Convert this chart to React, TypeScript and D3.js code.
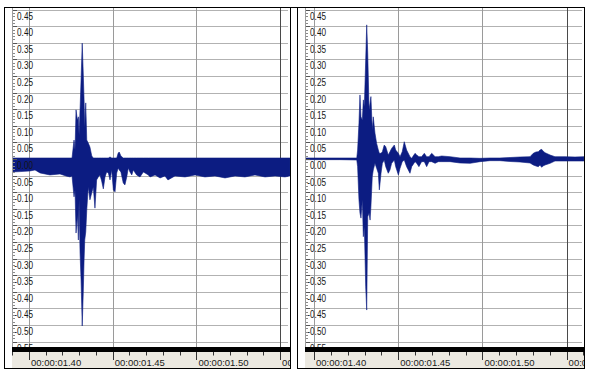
import React from 'react';
import * as d3 from 'd3';

// ---------- data ----------
const Y_TICKS = [0.45, 0.4, 0.35, 0.3, 0.25, 0.2, 0.15, 0.1, 0.05, 0, -0.05, -0.1, -0.15, -0.2, -0.25, -0.3, -0.35, -0.4, -0.45, -0.5, -0.55];
const Y_TICK_LABELS = ["0.45", "0.40", "0.35", "0.30", "0.25", "0.20", "0.15", "0.10", "0.05", "0.00", "-0.05", "-0.10", "-0.15", "-0.20", "-0.25", "-0.30", "-0.35", "-0.40", "-0.45", "-0.50", "-0.55"];
const TIME_TICKS = [1400, 1450, 1500, 1550]; // ms
const TIME_LABELS = ["00:00:01.40", "00:00:01.45", "00:00:01.50", "00:00:01.55"];

// left recording: time (ms), upper envelope, lower envelope
const LEFT_TIME = [
  1389.8, 1394.6, 1400.6, 1403.6, 1406.6, 1412.5, 1418.5, 1422.1, 1424.5, 1425.7,
  1426.9, 1427.5, 1428.1, 1428.9, 1429.5, 1429.9, 1430.5, 1431.1, 1431.8, 1432.4,
  1432.9, 1433.3, 1433.9, 1434.5, 1435.4, 1436.4, 1437.5, 1438.4, 1439.4, 1440.4,
  1441.4, 1442.4, 1443.4, 1444.4, 1445.4, 1446.4, 1447.4, 1448.4, 1449.4, 1450.4,
  1451.4, 1452.4, 1453.3, 1453.9, 1454.9, 1456.3, 1457.3, 1458.4, 1459.3, 1460.3,
  1461.4, 1462.3, 1464.3, 1466.3, 1468.3, 1471.3, 1472.3, 1475.3, 1478.3, 1481.2,
  1483.0, 1487.2, 1493.2, 1499.2, 1505.1, 1511.1, 1517.1, 1523.1, 1529.0, 1535.0,
  1541.0, 1547.0, 1552.9, 1555.9,
];
const LEFT_MAX = [
  0.003, 0.003, 0.003, 0.003, 0.003, 0.003, 0.003, 0.003, 0.003, 0.003,
  0.057, 0.027, 0.148, 0.117, 0.127, 0.072, 0.148, 0.238, 0.349, 0.259,
  0.178, 0.096, 0.169, 0.057, 0.048, 0.036, 0.009, 0.003, 0.003, 0.003,
  0.003, 0.003, 0.003, 0.003, 0.003, 0.003, 0.003, 0.006, 0.003, 0.003,
  0.003, 0.003, 0.018, 0.021, 0.009, 0.003, 0.003, 0.003, 0.003, 0.003,
  0.003, 0.003, 0.003, 0.003, 0.003, 0.003, 0.003, 0.003, 0.003, 0.003,
  0.003, 0.003, 0.003, 0.003, 0.003, 0.003, 0.003, 0.003, 0.003, 0.003,
  0.003, 0.003, 0.003, 0.003,
];
const LEFT_MIN = [
  -0.039, -0.038, -0.036, -0.033, -0.042, -0.048, -0.045, -0.051, -0.054, -0.051,
  -0.114, -0.093, -0.223, -0.169, -0.244, -0.123, -0.283, -0.364, -0.503, -0.404,
  -0.304, -0.244, -0.22, -0.154, -0.084, -0.123, -0.102, -0.084, -0.148, -0.063,
  -0.054, -0.048, -0.066, -0.09, -0.054, -0.039, -0.042, -0.063, -0.033, -0.093,
  -0.099, -0.042, -0.027, -0.033, -0.039, -0.072, -0.078, -0.054, -0.027, -0.039,
  -0.048, -0.033, -0.048, -0.054, -0.039, -0.048, -0.054, -0.048, -0.057, -0.051,
  -0.063, -0.051, -0.054, -0.048, -0.054, -0.051, -0.057, -0.051, -0.054, -0.048,
  -0.054, -0.051, -0.054, -0.051,
];

// right recording
const RIGHT_TIME = [
  1394.7, 1415.4, 1425.4, 1425.9, 1426.7, 1427.3, 1427.9, 1428.7, 1429.3, 1429.9,
  1430.7, 1431.3, 1431.9, 1432.7, 1433.3, 1433.8, 1434.6, 1435.2, 1436.2, 1437.2,
  1438.2, 1438.8, 1439.8, 1440.6, 1441.7, 1442.6, 1444.1, 1445.1, 1446.1, 1447.7,
  1448.5, 1450.1, 1451.1, 1452.4, 1453.6, 1455.0, 1457.0, 1458.0, 1460.0, 1461.0,
  1462.3, 1463.9, 1465.5, 1466.9, 1468.3, 1469.9, 1471.9, 1473.8, 1475.8, 1480.8,
  1486.7, 1492.7, 1498.6, 1504.5, 1510.4, 1516.4, 1522.3, 1528.3, 1530.2, 1531.8,
  1533.2, 1534.2, 1535.2, 1536.0, 1537.2, 1540.2, 1543.1, 1549.1, 1555.0, 1560.3,
];
const RIGHT_MAX = [
  0.003, 0.003, 0.003, 0.027, 0.108, 0.193, 0.127, 0.117, 0.178, 0.158,
  0.298, 0.404, 0.319, 0.148, 0.169, 0.188, 0.087, 0.127, 0.078, 0.047,
  0.027, 0.017, 0.017, 0.022, 0.042, 0.037, 0.012, 0.022, 0.032, 0.042,
  0.027, 0.017, 0.007, 0.022, 0.052, 0.027, 0.007, 0.002, 0.017, 0.012,
  0.007, 0.007, 0.017, 0.007, 0.007, 0.017, 0.007, 0.007, 0.009, 0.007,
  0.003, 0.003, 0.002, 0.003, 0.003, 0.0045, 0.006, 0.007, 0.017, 0.021,
  0.022, 0.027, 0.029, 0.024, 0.019, 0.012, 0.007, 0.007, 0.006, 0.007,
];
const RIGHT_MIN = [
  -0.002, -0.002, -0.003, -0.023, -0.123, -0.163, -0.178, -0.123, -0.234, -0.204,
  -0.385, -0.455, -0.174, -0.163, -0.184, -0.144, -0.053, -0.033, -0.013, -0.028,
  -0.043, -0.093, -0.043, -0.013, -0.003, -0.023, -0.043, -0.033, -0.013, -0.003,
  -0.023, -0.048, -0.028, -0.008, -0.003, -0.023, -0.043, -0.023, -0.008, -0.013,
  -0.023, -0.008, -0.008, -0.023, -0.008, -0.008, -0.013, -0.008, -0.008, -0.008,
  -0.012, -0.013, -0.008, -0.005, -0.005, -0.0075, -0.009, -0.012, -0.018, -0.021,
  -0.023, -0.018, -0.025, -0.021, -0.018, -0.013, -0.006, -0.006, -0.006, -0.006,
];

const WAVE_COLOR = '#0c1c82';
const FONT = "'Liberation Sans', Arial, sans-serif";
const TIME_FONT_SIZE = 9.5;

// approximate Arial advance widths (em) for the characters used by the time labels
const charWidth = (c: string) => (c === ':' || c === '.' ? 0.278 : 0.556) * TIME_FONT_SIZE;

// keep the characters of a label that are visible before the panel edge (the rest is cut off, as in the reference)
function fitLabel(label: string, room: number) {
  let w = 0;
  let out = '';
  for (const c of label) {
    w += charWidth(c);
    if (w > room + charWidth(c) * 0.9) break;
    out += c;
  }
  return out;
}

type PanelProps = {
  id: string;
  frameX0: number;
  frameX1: number;
  rulerX: number;
  x1400: number;
  x1550: number;
  labelRight: number;
  times: number[];
  maxs: number[];
  mins: number[];
};

const TOP = 7;
const PLOT_BOTTOM = 347;
const BAR_BOTTOM = 352;
const FRAME_BOTTOM = 368;

function Panel(p: PanelProps) {
  const x = d3.scaleLinear().domain([TIME_TICKS[0], TIME_TICKS[TIME_TICKS.length - 1]]).range([p.x1400, p.x1550]);
  const y = d3.scaleLinear().domain([-0.55, 0.45]).range([341.6, 9.6]);
  const idx = d3.range(p.times.length);
  const area = d3
    .area<number>()
    .x((i) => x(p.times[i]))
    .y0((i) => y(p.mins[i]))
    .y1((i) => y(p.maxs[i]));
  const tStart = x.invert(p.rulerX);
  const tEnd = x.invert(p.frameX1);
  const minorT = d3.range(Math.ceil(tStart / 10) * 10, tEnd, 10);
  const yMinor = d3.range(-55, 48).map((k) => k / 100).filter((v) => y(v) > TOP + 1 && y(v) < PLOT_BOTTOM);
  const crisp = (v: number) => Math.round(v) + 0.5;
  const clipPlot = `${p.id}-plot`;
  const clipPanel = `${p.id}-panel`;

  return (
    <g>
      <defs>
        <clipPath id={clipPlot}>
          <rect x={p.rulerX} y={TOP} width={p.frameX1 - p.rulerX} height={PLOT_BOTTOM - TOP} />
        </clipPath>
        <clipPath id={clipPanel}>
          <rect x={p.frameX0} y={TOP} width={p.frameX1 - p.frameX0} height={FRAME_BOTTOM - TOP} />
        </clipPath>
      </defs>
      <rect x={p.frameX0} y={TOP} width={p.frameX1 - p.frameX0} height={FRAME_BOTTOM - TOP} fill="#fff" />
      <g clipPath={`url(#${clipPlot})`}>
        {/* horizontal grid */}
        {Y_TICKS.map((v, i) => (
          <line key={'h' + i} x1={p.rulerX} x2={p.frameX1 - 2} y1={crisp(y(v))} y2={crisp(y(v))} stroke="#b2b2b2" strokeWidth={1} />
        ))}
        {/* vertical grid */}
        {TIME_TICKS.map((t, i) => (
          <line
            key={'v' + i}
            x1={crisp(x(t))}
            x2={crisp(x(t))}
            y1={TOP}
            y2={PLOT_BOTTOM}
            stroke={i === TIME_TICKS.length - 1 ? '#4a4a4a' : '#9a9a9a'}
            strokeWidth={1}
          />
        ))}
        <path d={area(idx) || ''} fill={WAVE_COLOR} stroke={WAVE_COLOR} strokeWidth={0.6} />
        {/* y labels */}
        {Y_TICKS.map((v, i) => (
          <text
            key={'yl' + i}
            transform={`translate(${p.labelRight},${y(v) + 10}) scale(0.82,1)`}
            textAnchor="end"
            fontFamily={FONT}
            fontSize={10}
            fill="#151515"
          >
            {Y_TICK_LABELS[i]}
          </text>
        ))}
        {/* y ruler */}
        <line x1={p.rulerX + 0.5} x2={p.rulerX + 0.5} y1={TOP} y2={PLOT_BOTTOM} stroke="#9c9c9c" strokeWidth={1} />
        {yMinor.map((v, i) => {
          const major = Math.abs(Math.round(v * 100) % 5) === 0;
          return (
            <line
              key={'ym' + i}
              x1={p.rulerX + 1}
              x2={p.rulerX + (major ? 5 : 3)}
              y1={crisp(y(v))}
              y2={crisp(y(v))}
              stroke={major ? '#555' : '#8a8a8a'}
              strokeWidth={1}
            />
          );
        })}
      </g>
      {/* time ruler */}
      <g clipPath={`url(#${clipPanel})`}>
        <rect x={p.rulerX} y={PLOT_BOTTOM} width={p.frameX1 - p.rulerX} height={BAR_BOTTOM - PLOT_BOTTOM} fill="#000" />
        <rect x={p.rulerX} y={BAR_BOTTOM} width={p.frameX1 - p.rulerX} height={FRAME_BOTTOM - BAR_BOTTOM} fill="#ece9e1" />
        {minorT.map((t, i) => {
          const major = Math.round(t) % 50 === 0;
          return (
            <line
              key={'tm' + i}
              x1={crisp(x(t))}
              x2={crisp(x(t))}
              y1={BAR_BOTTOM}
              y2={BAR_BOTTOM + (major ? 8 : 3.5)}
              stroke="#333"
              strokeWidth={1}
            />
          );
        })}
        {TIME_TICKS.map((t, i) => (
          <text key={'tl' + i} x={x(t) + 2} y={365.5} fontFamily={FONT} fontSize={TIME_FONT_SIZE} fill="#1a1a1a">
            {fitLabel(TIME_LABELS[i], p.frameX1 - (x(t) + 2))}
          </text>
        ))}
      </g>
      {/* frame */}
      <rect
        x={p.frameX0 + 0.5}
        y={TOP + 0.5}
        width={p.frameX1 - p.frameX0}
        height={FRAME_BOTTOM - TOP}
        fill="none"
        stroke="#000"
        strokeWidth={1}
      />
    </g>
  );
}

export default function App() {
  return (
    <svg
      width={596}
      height={375}
      viewBox="0 0 596 375"
      style={{ position: 'absolute', left: 0, top: 0, background: '#fff' }}
    >
      <rect x={0} y={0} width={596} height={375} fill="#fff" />
      <Panel
        id="left"
        frameX0={4}
        frameX1={290}
        rulerX={12}
        x1400={29}
        x1550={280.1}
        labelRight={33}
        times={LEFT_TIME}
        maxs={LEFT_MAX}
        mins={LEFT_MIN}
      />
      <Panel
        id="right"
        frameX0={297}
        frameX1={584}
        rulerX={305}
        x1400={314}
        x1550={566.6}
        labelRight={326}
        times={RIGHT_TIME}
        maxs={RIGHT_MAX}
        mins={RIGHT_MIN}
      />
      <line x1={4} x2={584.5} y1={TOP + 0.5} y2={TOP + 0.5} stroke="#000" strokeWidth={1} />
    </svg>
  );
}
